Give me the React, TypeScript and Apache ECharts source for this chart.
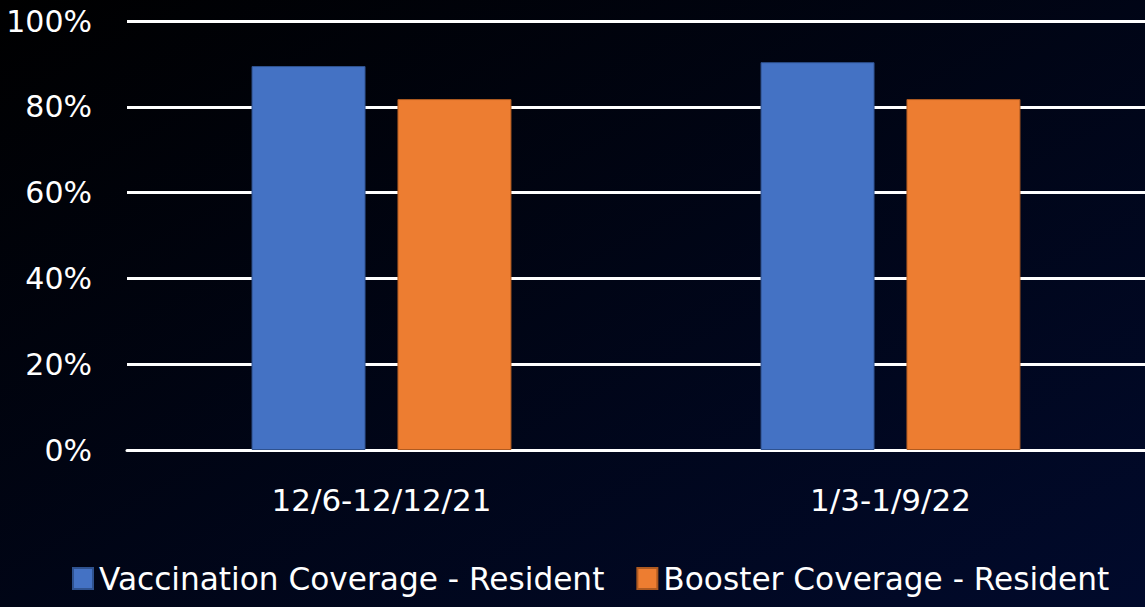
import React, { useEffect, useRef } from "react";
import * as echarts from "echarts";

const categories = ["12/6-12/12/21", "1/3-1/9/22"];
const vaccination = [89.5, 90.4];
const booster = [81.8, 81.8];
const seriesNames = ["Vaccination Coverage - Resident", "Booster Coverage - Resident"];
const FONT = "'DejaVu Sans', sans-serif";

export default function App() {
  const ref = useRef<HTMLDivElement>(null);
  useEffect(() => {
    document.body.style.margin = "0";
    const chart = echarts.init(ref.current!, undefined, { renderer: "svg" });
    chart.setOption({
      animation: false,
      backgroundColor: new echarts.graphic.LinearGradient(0, 0, 1, 1, [
        { offset: 0, color: "#000000" },
        { offset: 1, color: "#010a2c" },
      ]),
      grid: { left: 127, right: 0, top: 21, bottom: 157 },
      legend: {
        bottom: 8,
        left: 67,
        itemWidth: 20,
        itemHeight: 21,
        itemGap: 32,
        icon: "rect",
        textStyle: { color: "#ffffff", fontSize: 31.2, fontFamily: FONT, padding: [0, 0, 0, 1] },
        data: seriesNames,
      },
      xAxis: {
        type: "category",
        data: categories,
        axisLine: { lineStyle: { color: "#ffffff", width: 3 } },
        axisTick: { show: false },
        axisLabel: { color: "#ffffff", fontSize: 31, fontFamily: FONT, margin: 34 },
      },
      yAxis: {
        type: "value",
        min: 0,
        max: 100,
        interval: 20,
        axisLine: { show: false },
        axisTick: { show: false },
        splitLine: { lineStyle: { color: "#ffffff", width: 3 } },
        axisLabel: {
          color: "#ffffff",
          fontSize: 30,
          fontFamily: FONT,
          margin: 35,
          formatter: (v: number) => v + "%",
        },
      },
      series: [
        {
          name: seriesNames[0],
          type: "bar",
          data: vaccination,
          barWidth: 114,
          barGap: "28%",
          itemStyle: { color: "#4472c4", borderColor: "#2f528f", borderWidth: 1 },
        },
        {
          name: seriesNames[1],
          type: "bar",
          data: booster,
          barWidth: 114,
          itemStyle: { color: "#ed7d31", borderColor: "#ae5a21", borderWidth: 1 },
        },
      ],
    });
    return () => chart.dispose();
  }, []);
  return <div ref={ref} style={{ width: 1145, height: 607 }} />;
}
